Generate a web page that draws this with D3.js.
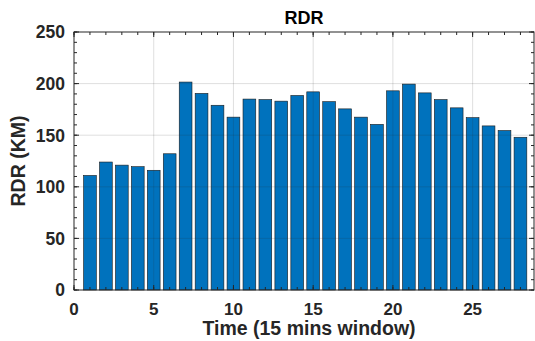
<!DOCTYPE html>
<html>
<head>
<meta charset="utf-8">
<script src="https://cdn.jsdelivr.net/npm/d3@7"></script>
<style>
  body { margin: 0; background: #fff; }
  text { font-family: "Liberation Sans", Arial, sans-serif; font-weight: bold; fill: #262626; }
</style>
</head>
<body>
<div id="chart"></div>
<script>
// Data
var windows = d3.range(1, 29);
var rdr = [111, 124, 121, 119.5, 116, 132, 201.5, 190.5, 179, 167.5, 185, 184.5, 183, 188.5,
           192, 182.5, 175.5, 167.5, 160.5, 193, 199.5, 191, 184.5, 176.5, 167, 159, 154.5, 148];
var xTicks = [0, 5, 10, 15, 20, 25];
var yTicks = [0, 50, 100, 150, 200, 250];

// Base chart space
var margin = {top: 32, right: 1, bottom: 51, left: 74},
    width = 535 - margin.left - margin.right,
    height = 341 - margin.top - margin.bottom;

var svg = d3.select('#chart').append('svg')
    .attr('width', 535)
    .attr('height', 341);

var g = svg.append('g')
    .attr('transform', 'translate(' + margin.left + ',' + margin.top + ')');

var x = d3.scaleLinear().domain([0, 28.85]).range([0, width]);
var y = d3.scaleLinear().domain([0, 250]).range([height, 0]);
var bw = x(0.8) - x(0);

// Bars
g.selectAll('.bar')
    .data(rdr)
    .enter()
    .append('rect')
    .attr('class', 'bar')
    .attr('x', function(d, i) { return x(windows[i]) - bw / 2; })
    .attr('y', function(d) { return y(d); })
    .attr('width', bw)
    .attr('height', function(d) { return height - y(d); })
    .style('fill', '#0072bd')
    .style('stroke', '#1a1a1a')
    .style('stroke-width', 0.6);

// Grid (drawn on top, faint like matlab)
g.selectAll('.gx').data(xTicks.slice(1)).enter().append('line')
    .attr('x1', function(d) { return x(d); }).attr('x2', function(d) { return x(d); })
    .attr('y1', 0).attr('y2', height)
    .style('stroke', '#262626').style('stroke-opacity', 0.15).style('stroke-width', 1);
g.selectAll('.gy').data(yTicks.slice(1, -1)).enter().append('line')
    .attr('x1', 0).attr('x2', width)
    .attr('y1', function(d) { return y(d); }).attr('y2', function(d) { return y(d); })
    .style('stroke', '#262626').style('stroke-opacity', 0.15).style('stroke-width', 1);

// Axes - ticks point inward, box on
var xMinor = d3.range(0, 29);
var yMinor = d3.range(0, 251, 10);

function ticks(sel, vals, len, side) {
    sel.selectAll(null).data(vals).enter().append('line')
        .attr('x1', function(d) { return side == 'x' ? x(d) : (len > 0 ? 0 : width); })
        .attr('x2', function(d) { return side == 'x' ? x(d) : (len > 0 ? len : width + len); })
        .attr('y1', function(d) { return side == 'y' ? y(d) : (len > 0 ? height : 0); })
        .attr('y2', function(d) { return side == 'y' ? y(d) : (len > 0 ? height - len : -len); })
        .style('stroke', '#262626').style('stroke-width', 1);
}
var tk = g.append('g');
ticks(tk, xMinor, 3, 'x');
ticks(tk, xMinor, -3, 'x');
ticks(tk, xTicks, 5, 'x');
ticks(tk, xTicks, -5, 'x');
ticks(tk, yMinor, 3, 'y');
ticks(tk, yMinor, -3, 'y');
ticks(tk, yTicks, 5, 'y');
ticks(tk, yTicks, -5, 'y');

g.append('rect')
    .attr('x', 0).attr('y', 0)
    .attr('width', width).attr('height', height)
    .style('fill', 'none').style('stroke', '#262626').style('stroke-width', 1);

// Tick labels
g.selectAll('.xl').data(xTicks).enter().append('text')
    .attr('x', function(d) { return x(d); })
    .attr('y', height + 24.5)
    .attr('text-anchor', 'middle')
    .style('font-size', '17px')
    .text(function(d) { return d; });
g.selectAll('.yl').data(yTicks).enter().append('text')
    .attr('x', -9)
    .attr('y', function(d) { return y(d) + 6.3; })
    .attr('text-anchor', 'end')
    .style('font-size', '17.5px')
    .text(function(d) { return d; });

// Title and labels
svg.append('text')
    .attr('x', 304)
    .attr('y', 24)
    .attr('text-anchor', 'middle')
    .style('font-size', '18px')
    .style('fill', '#000')
    .text('RDR');
svg.append('text')
    .attr('x', 309)
    .attr('y', 335)
    .attr('text-anchor', 'middle')
    .style('font-size', '19.5px')
    .text('Time (15 mins window)');
svg.append('text')
    .attr('transform', 'translate(25,' + (margin.top + height / 2) + ') rotate(-90)')
    .attr('text-anchor', 'middle')
    .style('font-size', '19.5px')
    .text('RDR (KM)');
</script>
</body>
</html>
